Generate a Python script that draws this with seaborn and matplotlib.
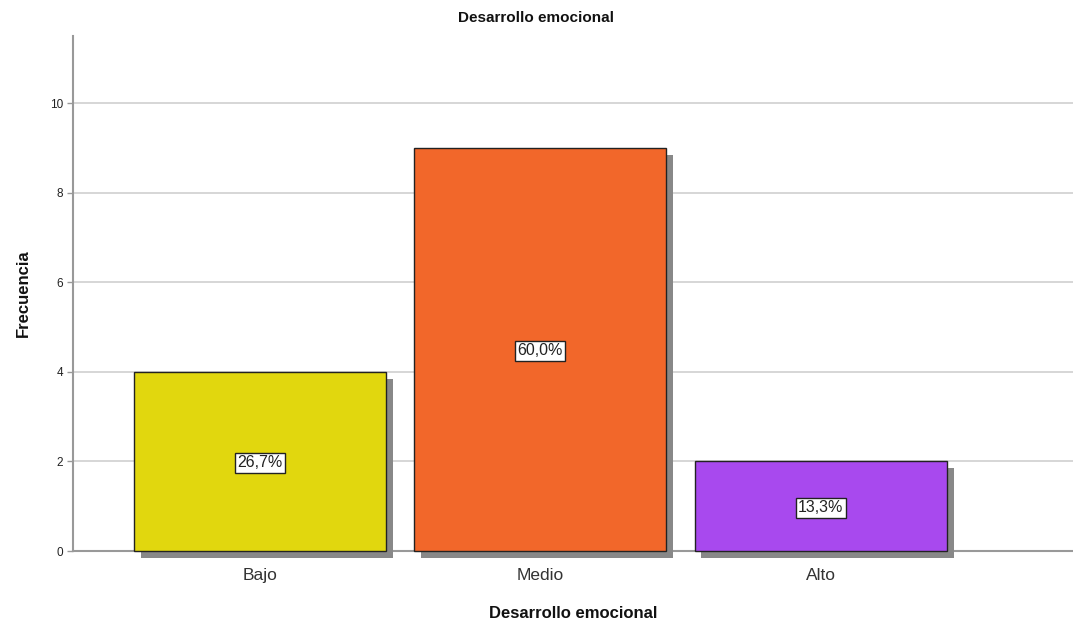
import matplotlib
matplotlib.use("Agg")
import matplotlib.pyplot as plt
import matplotlib.patheffects as pe
import seaborn as sns
import pandas as pd

categories = ["Bajo", "Medio", "Alto"]
frecuencia = [4, 9, 2]
porcentajes = ["26,7%", "60,0%", "13,3%"]
colores = ["#E1D70E", "#F2672A", "#A849EE"]
y_ticks = [0, 2, 4, 6, 8, 10]

df = pd.DataFrame({"cat": categories, "freq": frecuencia})

sns.set_theme(style="white")
plt.rcParams["font.family"] = ["Liberation Sans", "DejaVu Sans"]

fig = plt.figure(figsize=(10.73, 6.25), dpi=100)
ax = fig.add_axes([73/1073, (625-551)/625, 1 - 73/1073, (551-36)/625])

sns.barplot(data=df, x="cat", y="freq", hue="cat", palette=colores, saturation=1,
            order=categories, hue_order=categories, width=0.9,
            edgecolor="#222222", linewidth=1.0, legend=False, ax=ax, zorder=3)

for p in ax.patches:
    p.set_clip_on(False)
    p.set_path_effects([pe.SimplePatchShadow(offset=(5, -5), shadow_rgbFace="#888888", alpha=1.0),
                        pe.Normal()])

for i, (v, lab) in enumerate(zip(frecuencia, porcentajes)):
    ax.text(i, v / 2, lab, ha="center", va="center_baseline", fontsize=11.5, color="#222222", zorder=5,
            bbox=dict(boxstyle="square,pad=0.15", facecolor="white", edgecolor="#222222", linewidth=1.0))

ax.set_ylim(0, 11.5)
ax.set_xlim(-0.667, 2.9)
ax.set_yticks(y_ticks)
ax.set_yticklabels([str(t) for t in y_ticks], fontsize=8.5, color="#222222")
ax.tick_params(axis="x", labelsize=12.5, length=0, pad=12, labelcolor="#333333")
ax.tick_params(axis="y", length=4, width=1, color="#999999", pad=3, left=True)
ax.yaxis.grid(True, color="#D0D0D0", linewidth=1.2, zorder=0)
ax.set_axisbelow(True)

for s in ["top", "right"]:
    ax.spines[s].set_visible(False)
for s in ["left", "bottom"]:
    ax.spines[s].set_color("#999999")
    ax.spines[s].set_linewidth(1.5)

ax.set_xlabel("Desarrollo emocional", fontsize=12, fontweight="bold", color="#111111", labelpad=17)
ax.set_ylabel("Frecuencia", fontsize=12, fontweight="bold", color="#111111", labelpad=14)
fig.text(0.5, 1 - 18/625, "Desarrollo emocional", ha="center", va="center",
         fontsize=11, fontweight="bold", color="#111111")

fig.savefig("out.png", dpi=100, facecolor="white")
